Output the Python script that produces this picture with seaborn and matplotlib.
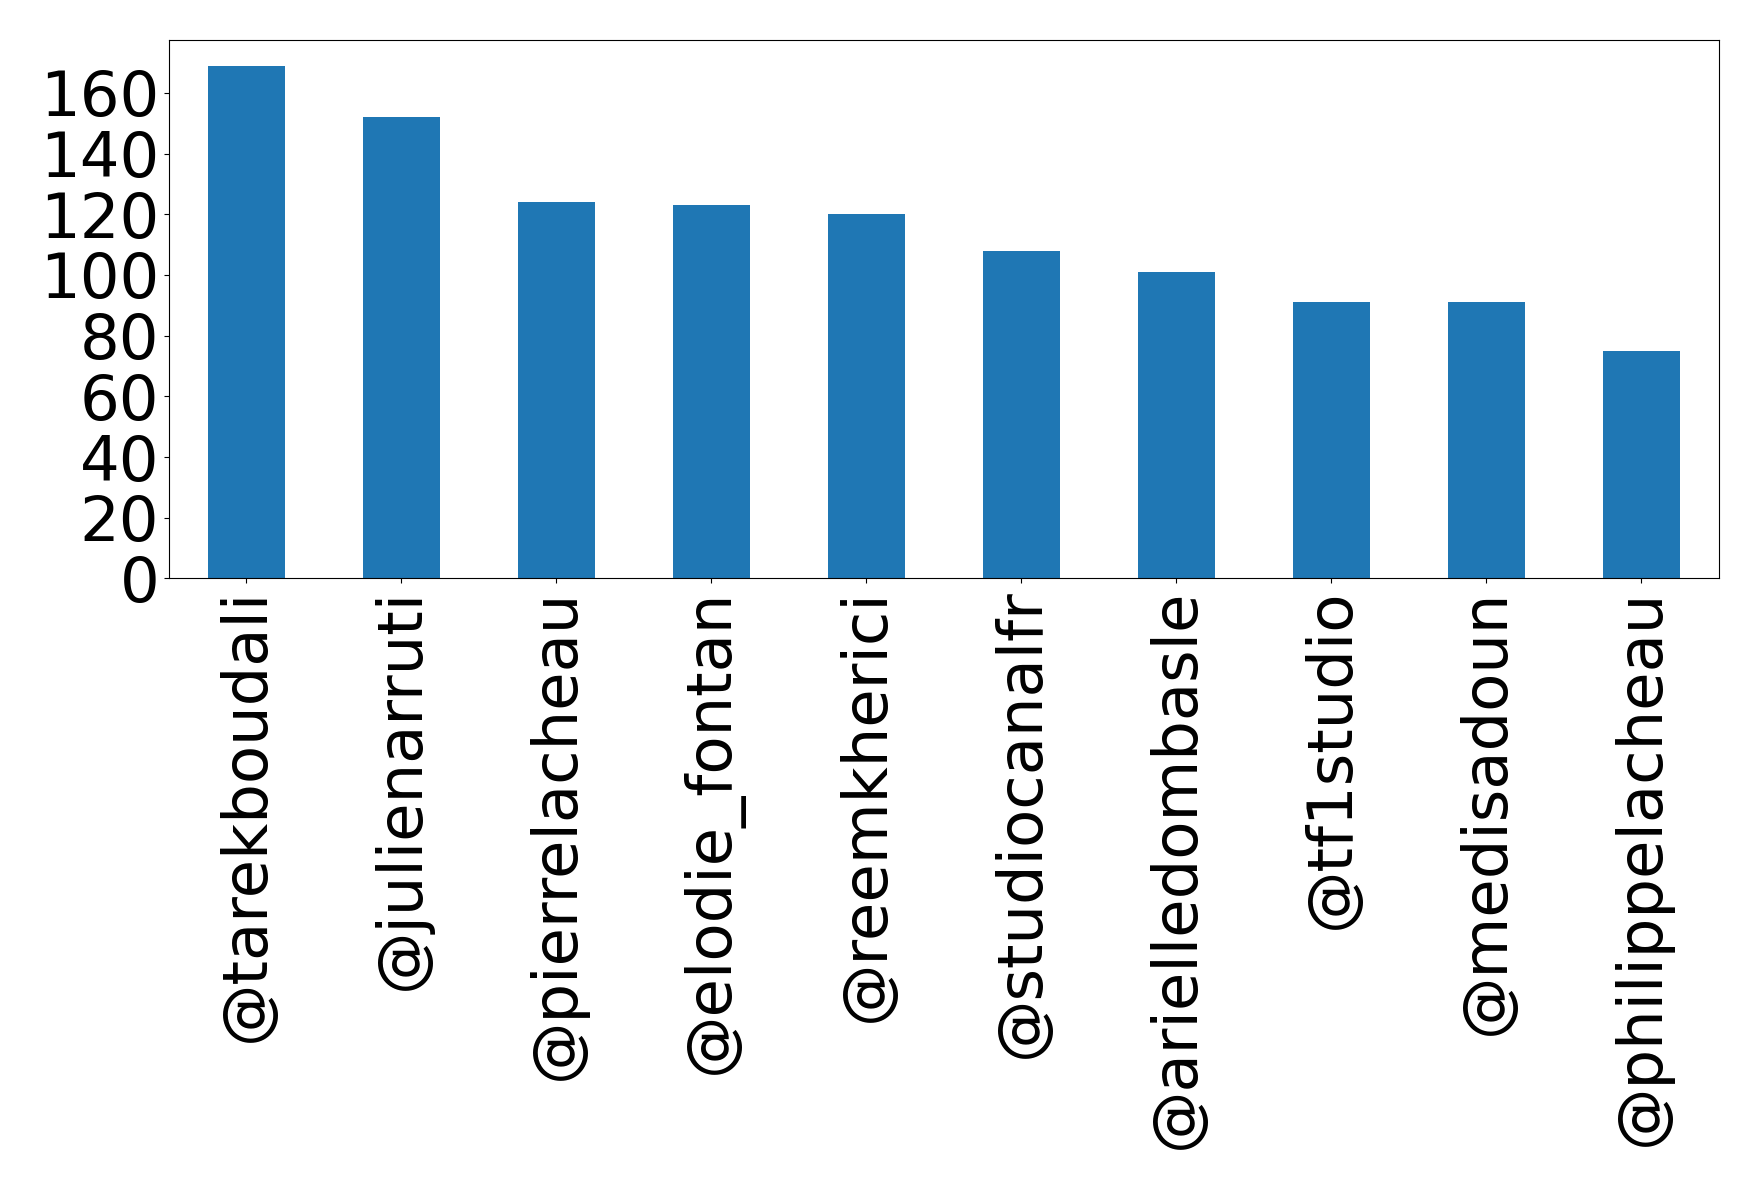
import matplotlib
matplotlib.use("Agg")
import matplotlib.pyplot as plt
import pandas as pd
import seaborn as sns

accounts = ["@tarekboudali", "@julienarruti", "@pierrelacheau", "@elodie_fontan",
            "@reemkherici", "@studiocanalfr", "@arielledombasle", "@tf1studio",
            "@medisadoun", "@philippelacheau"]
counts = [169, 152, 124, 123, 120, 108, 101, 91, 91, 75]

df = pd.DataFrame({"account": accounts, "count": counts})

fig = plt.figure(figsize=(17.58, 11.89), dpi=100)
ax = fig.add_axes([0.0961, 0.5135, 0.8817, 0.4529])
sns.barplot(data=df, x="account", y="count", color="#1f77b4", saturation=1, width=0.5, ax=ax)
ax.set_xlim(-0.5, len(accounts) - 0.5)
ax.set_xlabel("")
ax.set_ylabel("")
ax.set_yticks(range(0, 161, 20))
ax.tick_params(axis="both", labelsize=45)
ax.tick_params(axis="x", labelrotation=90)
fig.savefig("out.png", dpi=100)
